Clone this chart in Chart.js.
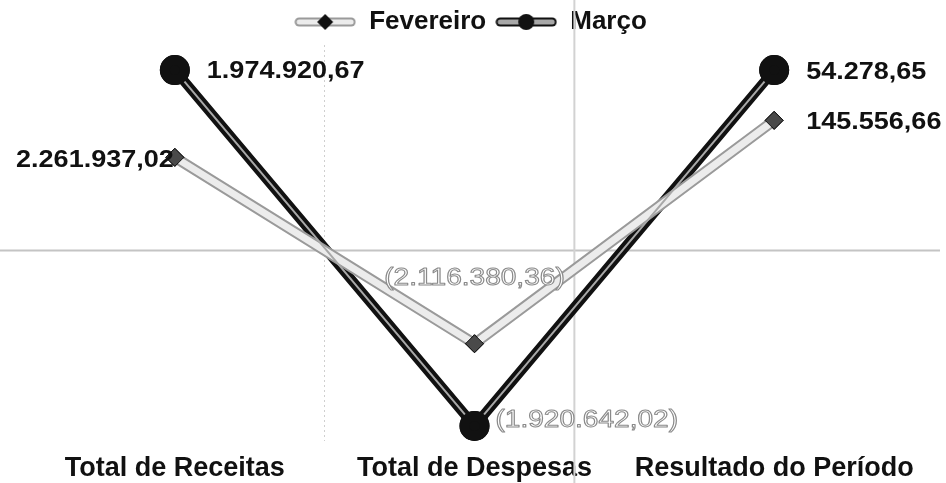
<!DOCTYPE html>
<html>
<head>
<meta charset="utf-8">
<script src="https://cdn.jsdelivr.net/npm/chart.js@4/dist/chart.umd.min.js"></script>
<style>
  html, body { margin: 0; padding: 0; background: #fff; }
  #wrap { width: 946px; height: 483px; }
</style>
</head>
<body>
<div id="wrap"><canvas id="grafico"></canvas></div>
<script>
const categorias = ['Total de Receitas', 'Total de Despesas', 'Resultado do Período'];
const series = ['Fevereiro', 'Março'];

// altura dos pontos como aparecem no gráfico (escala do desenho)
const fevereiroAltura = [1020, -1020, 1425];
const marcoAltura = [1975, -1920, 1975];

// rótulos de valor mostrados em cada ponto
const fevereiroRotulos = ['2.261.937,02', '(2.116.380,36)', '145.556,66'];
const marcoRotulos = ['1.974.920,67', '(1.920.642,02)', '54.278,65'];

const rotulos = [fevereiroRotulos, marcoRotulos];
const FONTE = '"Liberation Sans", Arial, sans-serif';

// onde cada rótulo fica em relação ao ponto
const posRotulo = [
    [{dx: -1, dy: 3, align: 'right'}, {dx: 0, dy: -65, align: 'center'}, {dx: 32, dy: 2, align: 'left'}],
    [{dx: 32, dy: 1, align: 'left'}, {dx: 21, dy: -5, align: 'left'}, {dx: 32, dy: 2, align: 'left'}]
];

// estilo "tubo" das linhas: contorno + faixa interna
const estiloLinha = [
    {fora: '#9a9a9a', foraW: 11, dentro: '#ececec', dentroW: 7},
    {fora: '#111111', foraW: 10, dentro: '#a8a8a8', dentroW: 2}
];

function simboloLegenda(i) {
    const c = document.createElement('canvas');
    c.width = 62; c.height = 18;
    const g = c.getContext('2d');
    const e = estiloLinha[i];
    g.lineCap = 'round';
    g.strokeStyle = e.fora; g.lineWidth = 9;
    g.beginPath(); g.moveTo(5, 9); g.lineTo(57, 9); g.stroke();
    g.strokeStyle = e.dentro; g.lineWidth = 5;
    g.beginPath(); g.moveTo(5, 9); g.lineTo(57, 9); g.stroke();
    g.fillStyle = '#111';
    g.beginPath();
    if (i === 0) {
        g.moveTo(31, 1); g.lineTo(39, 9); g.lineTo(31, 17); g.lineTo(23, 9);
    } else {
        g.arc(31, 9, 8, 0, Math.PI * 2);
    }
    g.closePath(); g.fill();
    return c;
}

const decoracaoPlugin = {
    id: 'decoracao',
    beforeDatasetsDraw(chart) {
        const ctx = chart.ctx;
        const y0 = chart.scales.y.getPixelForValue(0);
        const x = chart.scales.x;
        const xLinha = x.getPixelForValue(1) + (x.getPixelForValue(2) - x.getPixelForValue(1)) / 3;
        ctx.save();
        ctx.strokeStyle = '#c4c4c4';
        ctx.lineWidth = 2;
        ctx.beginPath(); ctx.moveTo(0, y0); ctx.lineTo(940, y0); ctx.stroke();
        ctx.strokeStyle = '#d2d2d2';
        ctx.lineWidth = 2;
        ctx.beginPath(); ctx.moveTo(xLinha, 0); ctx.lineTo(xLinha, 483); ctx.stroke();
        ctx.restore();
    },
    afterDatasetsDraw(chart) {
        const ctx = chart.ctx;
        ctx.save();
        // faixa interna das linhas
        chart.data.datasets.forEach((ds, i) => {
            const pts = chart.getDatasetMeta(i).data;
            const e = estiloLinha[i];
            ctx.strokeStyle = e.dentro;
            ctx.lineWidth = e.dentroW;
            ctx.lineJoin = 'round';
            ctx.beginPath();
            pts.forEach((p, j) => j ? ctx.lineTo(p.x, p.y) : ctx.moveTo(p.x, p.y));
            ctx.stroke();
        });
        // pontos por cima
        chart.data.datasets.forEach((ds, i) => {
            chart.getDatasetMeta(i).data.forEach(p => p.draw(ctx, chart.chartArea));
        });
        // rótulos de valor (fonte um pouco alargada, como no original)
        ctx.textBaseline = 'middle';
        chart.data.datasets.forEach((ds, i) => {
            chart.getDatasetMeta(i).data.forEach((pt, j) => {
                const p = posRotulo[i][j];
                const txt = rotulos[i][j];
                const negativo = txt.startsWith('(');
                ctx.save();
                ctx.translate(pt.x + p.dx, pt.y + p.dy);
                ctx.scale(negativo ? 1.22 : 1.15, 1);
                ctx.textAlign = p.align;
                if (negativo) {
                    ctx.font = '23px ' + FONTE;
                    ctx.fillStyle = '#fff';
                    ctx.fillText(txt, 0, 0);
                    ctx.strokeStyle = '#8a8a8a';
                    ctx.lineWidth = 1;
                    ctx.strokeText(txt, 0, 0);
                } else {
                    ctx.font = 'bold 23.5px ' + FONTE;
                    ctx.fillStyle = '#111';
                    ctx.fillText(txt, 0, 0);
                }
                ctx.restore();
            });
        });
        ctx.restore();
    }
};

new Chart(document.getElementById('grafico'), {
    type: 'line',
    data: {
        labels: categorias,
        datasets: [{
            label: series[0],
            data: fevereiroAltura,
            borderColor: estiloLinha[0].fora,
            borderWidth: estiloLinha[0].foraW,
            pointStyle: 'rectRot',
            pointRadius: 9,
            pointBackgroundColor: '#4a4a4a',
            pointBorderColor: '#111',
            pointBorderWidth: 1,
            tension: 0
        }, {
            label: series[1],
            data: marcoAltura,
            borderColor: estiloLinha[1].fora,
            borderWidth: estiloLinha[1].foraW,
            pointStyle: 'circle',
            pointRadius: 10,
            pointBackgroundColor: '#111',
            pointBorderColor: '#111',
            tension: 0
        }]
    },
    options: {
        responsive: true,
        maintainAspectRatio: false,
        animation: false,
        layout: { padding: { left: 17, right: 22, top: 0, bottom: 0 } },
        plugins: {
            tooltip: { enabled: false },
            legend: {
                position: 'top',
                labels: {
                    usePointStyle: true,
                    pointStyleWidth: 62,
                    padding: 9,
                    color: '#111',
                    font: { family: FONTE, size: 26, weight: 'bold' },
                    generateLabels: (chart) => chart.data.datasets.map((ds, i) => ({
                        text: ds.label,
                        pointStyle: simboloLegenda(i),
                        datasetIndex: i,
                        fontColor: '#111',
                        lineWidth: 0
                    }))
                }
            }
        },
        scales: {
            x: {
                offset: true,
                afterFit: (s) => { s.height = 42; },
                grid: {
                    offset: true,
                    drawTicks: false,
                    lineWidth: 1,
                    color: (c) => c.index === 1 ? '#cfcfcf' : 'transparent'
                },
                border: { display: false, dash: [2, 3] },
                ticks: {
                    color: '#111',
                    padding: 11,
                    font: { family: FONTE, size: 27, weight: 'bold' }
                }
            },
            y: {
                min: -2085,
                max: 2250,
                grid: { display: false },
                border: { display: false },
                ticks: { display: false, stepSize: 500 }
            }
        }
    },
    plugins: [decoracaoPlugin]
});
</script>
</body>
</html>
